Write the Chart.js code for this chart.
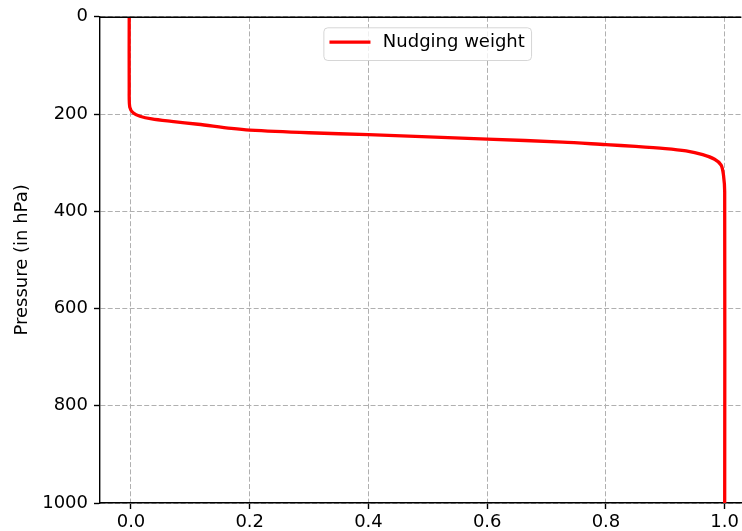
<!DOCTYPE html>
<html>
<head>
<meta charset="utf-8">
<title>Nudging weight profile</title>
<script src="https://cdn.jsdelivr.net/npm/chart.js@4/dist/chart.umd.min.js"></script>
<style>
  html, body { margin: 0; padding: 0; background: #ffffff; }
  #wrap { width: 742px; height: 531px; }
</style>
</head>
<body>
<div id="wrap"><canvas id="chart" width="742" height="531"></canvas></div>
<script>
// Vertical profile of the nudging weight (0 = free, 1 = fully nudged)
const seriesLabel = 'Nudging weight';
const pressure = [0, 150, 186, 198, 204.5, 210, 215, 221, 229.5, 233, 238.5, 242.5, 246.5, 251.5, 257.7, 263, 266.5, 271, 276, 283.6, 293, 305, 326, 360, 1000];
const weight   = [-0.003, -0.003, -0.002, 0.004, 0.015, 0.035, 0.068, 0.113, 0.169, 0.2, 0.3, 0.4, 0.49, 0.6, 0.727, 0.8, 0.85, 0.9, 0.935, 0.963, 0.983, 0.994, 0.998, 1.0, 1.0];

// Axis ticks
const xTicks = [0.0, 0.2, 0.4, 0.6, 0.8, 1.0];
const yTicks = [0, 200, 400, 600, 800, 1000];

const FONT = { family: '"DejaVu Sans", sans-serif', size: 18 };
const points = weight.map((w, i) => ({ x: w, y: pressure[i] }));

// Top spine of the axes frame
const topSpine = {
  id: 'topSpine',
  afterDraw(chart) {
    const { ctx, chartArea } = chart;
    ctx.save();
    ctx.strokeStyle = '#000';
    ctx.lineWidth = 1.4;
    ctx.beginPath();
    ctx.moveTo(chartArea.left, chartArea.top + 0.5);
    ctx.lineTo(chartArea.right, chartArea.top + 0.5);
    ctx.stroke();
    ctx.restore();
  }
};

// Framed legend placed inside the plot, near the top centre
const insideLegend = {
  id: 'insideLegend',
  afterDraw(chart) {
    const { ctx, chartArea } = chart;
    const ds = chart.data.datasets[0];
    ctx.save();
    ctx.font = FONT.size + 'px ' + FONT.family;
    const textW = ctx.measureText(ds.label).width;
    const padL = 5.6, lineW = 41, gap = 12.4, padR = 6.7;
    const boxW = padL + lineW + gap + textW + padR;
    const boxH = 32.7;
    const cx = chartArea.left + 327.7;
    const left = cx - boxW / 2;
    const top = chartArea.top + 11;
    const r = 4;
    ctx.beginPath();
    ctx.moveTo(left + r, top);
    ctx.lineTo(left + boxW - r, top);
    ctx.arcTo(left + boxW, top, left + boxW, top + r, r);
    ctx.lineTo(left + boxW, top + boxH - r);
    ctx.arcTo(left + boxW, top + boxH, left + boxW - r, top + boxH, r);
    ctx.lineTo(left + r, top + boxH);
    ctx.arcTo(left, top + boxH, left, top + boxH - r, r);
    ctx.lineTo(left, top + r);
    ctx.arcTo(left, top, left + r, top, r);
    ctx.closePath();
    ctx.fillStyle = 'rgba(255,255,255,0.8)';
    ctx.fill();
    ctx.strokeStyle = 'rgba(204,204,204,0.8)';
    ctx.lineWidth = 1;
    ctx.stroke();
    // sample line
    const midY = top + 14.3;
    ctx.strokeStyle = ds.borderColor;
    ctx.lineWidth = ds.borderWidth;
    ctx.beginPath();
    ctx.moveTo(left + padL, midY);
    ctx.lineTo(left + padL + lineW, midY);
    ctx.stroke();
    // label
    ctx.fillStyle = '#000';
    ctx.textBaseline = 'alphabetic';
    ctx.textAlign = 'left';
    ctx.fillText(ds.label, left + padL + lineW + gap, top + 19.5);
    ctx.restore();
  }
};

new Chart(document.getElementById('chart'), {
  type: 'line',
  data: {
    datasets: [{
      label: seriesLabel,
      data: points,
      borderColor: '#ff0000',
      backgroundColor: '#ff0000',
      borderWidth: 3.3,
      pointRadius: 0,
      tension: 0.3,
      fill: false
    }]
  },
  options: {
    responsive: false,
    animation: false,
    devicePixelRatio: 1,
    layout: { padding: { top: 14, right: 0, bottom: 0, left: 0 } },
    plugins: {
      legend: { display: false },
      tooltip: { enabled: false }
    },
    scales: {
      x: {
        type: 'linear',
        position: 'bottom',
        min: -0.0522,
        max: 1.0281,
        afterBuildTicks: (scale) => { scale.ticks = xTicks.map(v => ({ value: v })); },
        afterFit: (scale) => { scale.height = 28; },
        ticks: {
          color: '#000',
          font: FONT,
          padding: 3,
          maxRotation: 0,
          autoSkip: false,
          callback: (v) => Number(v).toFixed(1)
        },
        grid: {
          color: '#b0b0b0',
          lineWidth: 1,
          drawTicks: true,
          tickLength: 6,
          tickColor: '#000',
          tickWidth: 1.4
        },
        border: { display: true, color: '#000', width: 1.4, dash: [5, 2.3] }
      },
      y: {
        type: 'linear',
        position: 'left',
        reverse: true,
        min: 0,
        max: 1000,
        afterBuildTicks: (scale) => { scale.ticks = yTicks.map(v => ({ value: v })); },
        afterFit: (scale) => { scale.width = 100; },
        ticks: {
          color: '#000',
          font: FONT,
          padding: 6,
          autoSkip: false,
          callback: (v) => String(v)
        },
        grid: {
          color: '#b0b0b0',
          lineWidth: 1,
          drawTicks: true,
          tickLength: 6,
          tickColor: '#000',
          tickWidth: 1.4
        },
        border: { display: true, color: '#000', width: 1.4, dash: [5, 2.3] },
        title: {
          display: true,
          text: 'Pressure (in hPa)',
          color: '#000',
          font: FONT,
          padding: { top: 12, bottom: 0 }
        }
      }
    }
  },
  plugins: [topSpine, insideLegend]
});
</script>
</body>
</html>
